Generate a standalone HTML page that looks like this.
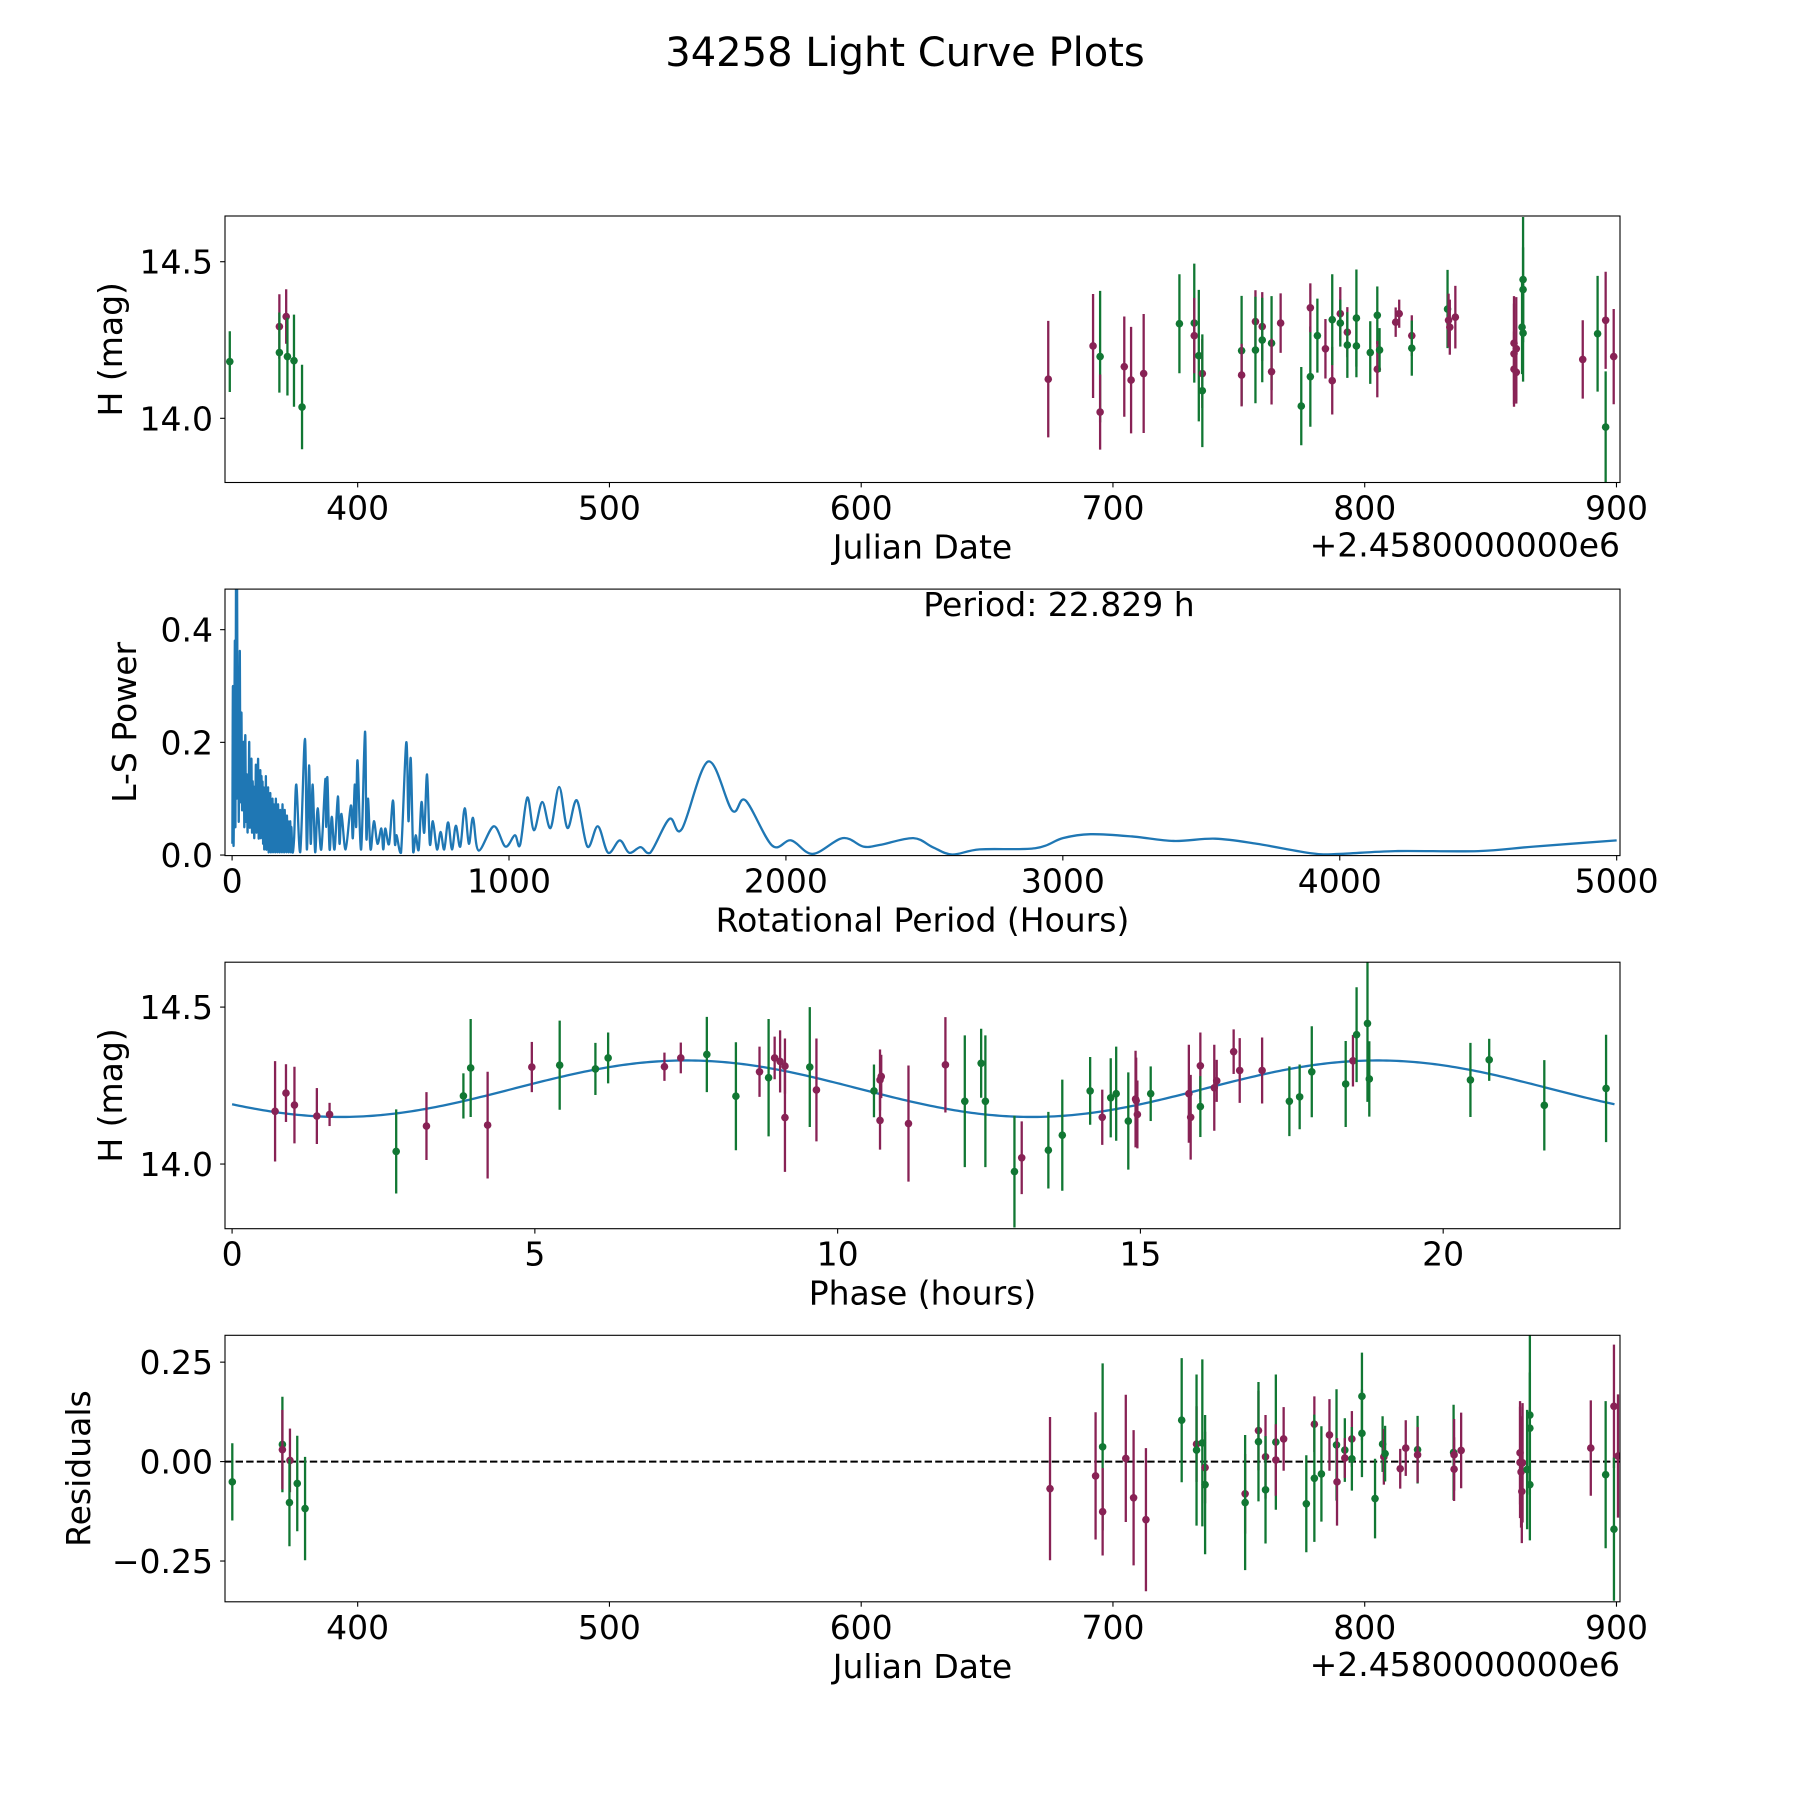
<!DOCTYPE html>
<html><head><meta charset="utf-8">
<style>
html,body{margin:0;padding:0;background:#fff;}
svg{display:block;font-family:"DejaVu Sans","Liberation Sans",sans-serif;}
</style></head>
<body>
<svg id="fig" width="1800" height="1800" viewBox="0 0 1800 1800" xmlns="http://www.w3.org/2000/svg">
<rect x="0" y="0" width="1800" height="1800" fill="#fff"/>
<text x="905" y="66" font-size="40" text-anchor="middle">34258 Light Curve Plots</text>
</svg>
<script>
// ---- observation data (panel 1) ----
const obsTime = [349.2,368.9,368.9,371.6,372.1,374.7,377.9,674.3,692.1,694.9,694.9,704.5,707.2,712.2,726.4,732.3,732.3,734.1,735.5,735.5,751.1,751.1,756.6,756.6,759.3,759.3,763.0,763.0,766.6,774.8,778.4,778.4,781.2,784.4,787.1,787.1,790.3,790.3,793.1,793.1,796.7,796.7,802.2,805.0,805.0,805.9,812.3,813.7,818.7,818.7,832.9,833.3,833.8,836.0,859.3,859.3,860.2,859.3,860.2,862.5,862.9,862.9,862.9,886.6,892.5,895.7,895.7,898.9];
const obsMag = [14.181,14.293,14.210,14.325,14.197,14.184,14.036,14.125,14.231,14.197,14.020,14.165,14.122,14.143,14.302,14.304,14.264,14.200,14.143,14.088,14.216,14.138,14.309,14.218,14.293,14.250,14.240,14.149,14.304,14.039,14.133,14.353,14.264,14.222,14.120,14.315,14.334,14.304,14.275,14.234,14.320,14.231,14.210,14.329,14.157,14.218,14.307,14.334,14.264,14.224,14.349,14.313,14.291,14.323,14.240,14.206,14.222,14.157,14.147,14.291,14.443,14.411,14.272,14.188,14.270,14.313,13.972,14.197];
const obsErr = [0.097,0.103,0.128,0.087,0.124,0.147,0.135,0.186,0.166,0.210,0.120,0.160,0.170,0.190,0.158,0.190,0.120,0.210,0.110,0.180,0.175,0.100,0.100,0.170,0.110,0.135,0.150,0.105,0.095,0.125,0.160,0.078,0.118,0.095,0.108,0.145,0.085,0.075,0.080,0.105,0.155,0.100,0.100,0.092,0.090,0.070,0.047,0.045,0.065,0.088,0.125,0.085,0.088,0.100,0.150,0.160,0.165,0.120,0.100,0.150,0.200,0.135,0.155,0.125,0.185,0.155,0.178,0.152];
const obsBand = ['g','p','g','p','g','g','g','p','p','g','p','p','p','p','g','g','p','g','p','g','g','p','p','g','p','g','g','p','p','g','g','p','g','p','p','g','p','g','p','g','g','g','g','g','p','g','p','p','p','g','g','p','p','p','p','p','p','p','p','g','g','g','g','p','g','p','g','p'];
// ---- phase-folded data (panel 3) ----
const phPhase = [0.71,0.89,1.03,1.40,1.61,2.71,3.21,3.82,3.94,4.22,4.95,5.41,6.00,6.21,7.14,7.41,7.84,8.32,8.71,8.86,8.96,9.05,9.13,9.13,9.54,9.65,10.60,10.70,10.72,10.70,11.17,11.78,12.10,12.37,12.44,12.92,13.04,13.48,13.71,14.17,14.37,14.51,14.60,14.80,14.92,14.93,14.95,15.17,15.80,15.83,15.99,15.99,16.22,16.26,16.54,16.64,17.01,17.46,17.63,17.83,18.39,18.51,18.57,18.75,18.78,20.45,20.76,21.67,22.69];
const phMag = [14.168,14.226,14.188,14.153,14.158,14.040,14.121,14.217,14.306,14.124,14.309,14.315,14.303,14.338,14.310,14.338,14.349,14.216,14.294,14.275,14.338,14.327,14.312,14.148,14.309,14.236,14.233,14.268,14.279,14.139,14.129,14.316,14.200,14.321,14.200,13.976,14.020,14.044,14.092,14.233,14.149,14.211,14.224,14.137,14.207,14.202,14.158,14.224,14.224,14.149,14.313,14.183,14.243,14.265,14.358,14.298,14.298,14.200,14.214,14.294,14.255,14.329,14.412,14.448,14.271,14.268,14.332,14.187,14.241];
const phErr = [0.160,0.092,0.122,0.089,0.037,0.134,0.108,0.072,0.156,0.170,0.080,0.142,0.083,0.081,0.045,0.049,0.120,0.172,0.080,0.187,0.068,0.099,0.088,0.173,0.191,0.164,0.084,0.097,0.069,0.093,0.185,0.152,0.210,0.110,0.210,0.178,0.116,0.122,0.177,0.108,0.088,0.126,0.150,0.155,0.154,0.137,0.108,0.087,0.156,0.135,0.106,0.097,0.137,0.067,0.071,0.103,0.105,0.111,0.103,0.145,0.137,0.082,0.151,0.250,0.120,0.118,0.067,0.144,0.171];
const phBand = ['p','p','p','p','p','g','p','g','g','p','p','g','g','g','p','p','g','g','p','g','p','p','p','p','g','p','g','p','p','p','p','p','g','g','g','g','p','g','g','g','p','g','g','g','p','p','p','g','p','p','p','g','p','p','p','p','p','g','g','g','g','p','g','g','g','g','g','g','g'];
// ---- residual data (panel 4) ----
const resTime = [350.2,370.1,370.1,373.1,372.9,376.0,379.1,675.0,693.1,695.9,695.9,705.1,708.2,713.1,727.3,733.2,733.2,735.5,736.6,736.6,752.5,752.5,757.8,757.8,760.6,760.6,764.7,764.7,767.8,776.8,780.0,780.0,782.8,786.0,788.8,789.0,792.1,792.1,794.9,794.9,798.9,798.9,804.1,807.1,807.6,808.1,814.1,816.3,821.0,821.0,835.3,835.5,835.5,838.3,861.7,861.7,862.1,862.4,862.7,864.5,865.6,865.6,865.6,889.8,895.7,899.0,899.0,900.6];
const resVal = [-0.051,0.043,0.030,0.003,-0.103,-0.055,-0.118,-0.068,-0.036,0.037,-0.126,0.008,-0.091,-0.146,0.104,0.044,0.029,0.047,-0.015,-0.058,-0.081,-0.103,0.078,0.050,0.012,-0.071,0.049,0.004,0.057,-0.106,0.094,-0.042,-0.031,0.067,0.042,-0.051,0.029,0.009,0.057,0.007,0.164,0.071,-0.093,0.044,0.012,0.020,-0.018,0.034,0.030,0.017,0.023,0.017,-0.019,0.028,0.022,-0.002,-0.026,-0.075,-0.003,-0.020,0.117,0.084,-0.058,0.034,-0.033,0.139,-0.170,0.014];
const resErr = [0.097,0.120,0.100,0.080,0.110,0.120,0.130,0.180,0.160,0.210,0.110,0.160,0.170,0.180,0.156,0.095,0.190,0.210,0.090,0.175,0.100,0.170,0.100,0.150,0.105,0.135,0.170,0.090,0.080,0.122,0.070,0.160,0.120,0.090,0.140,0.110,0.080,0.050,0.070,0.080,0.110,0.110,0.100,0.070,0.070,0.070,0.050,0.070,0.085,0.070,0.120,0.090,0.080,0.095,0.130,0.140,0.140,0.130,0.150,0.150,0.200,0.140,0.140,0.120,0.185,0.155,0.180,0.155];
const resBand = ['g','g','p','p','g','g','g','p','p','g','p','p','p','p','g','p','g','g','p','g','p','g','p','g','p','g','g','p','p','g','p','g','g','p','g','p','g','p','p','g','g','g','g','g','p','g','p','p','g','p','g','p','p','p','p','p','p','p','p','g','g','g','g','p','g','p','g','p'];
// ---- fit parameters ----
const fitPeriod = [22.829];
const fitParams = [14.24, 0.09, 4.646]; // mean, amplitude, phase offset
// ---- periodogram ----
const lsPeriod = [1,3,5,7,10,12,14,16,18,20,22,24,26,28,30,32,34,36,38,40,42,44,46,48,50,52,54,56,58,60,62,64,66,68,70,72,74,76,78,80,82,84,86,88,90,92,94,96,98,100,102,104,106,108,110,112,114,116,118,120,122,124,126,128,130,132,134,136,138,140,142,144,146,148,150,152,154,156,158,160,162,164,166,168,170,172,174,176,178,180,182,184,186,188,190,192,194,196,198,200,202,204,206,208,210,212,214,218,224,232,246,263,270,278,284,291,300,309,322,337,340,344,352,360,370,382,388,395,410,429,436,443,448,453,466,480,485,491,500,512,525,539,546,553,567,581,588,594,610,629,637,645,654,663,674,684,694,704,714,725,740,753,766,780,794,808,824,840,855,870,890,945,987,1021,1040,1066,1090,1120,1150,1181,1211,1245,1283,1321,1358,1400,1434,1475,1510,1579,1624,1719,1806,1854,1950,2019,2097,2205,2280,2340,2460,2530,2600,2700,2900,3000,3100,3250,3400,3550,3700,3900,4000,4200,4500,4700,5000];
const lsPower = [0.02,0.30,0.02,0.12,0.38,0.05,0.475,0.10,0.475,0.20,0.30,0.06,0.22,0.36,0.10,0.18,0.25,0.08,0.19,0.12,0.20,0.05,0.15,0.21,0.06,0.14,0.12,0.04,0.14,0.11,0.20,0.05,0.12,0.10,0.17,0.04,0.13,0.09,0.12,0.03,0.11,0.08,0.16,0.04,0.13,0.09,0.17,0.03,0.11,0.08,0.15,0.03,0.14,0.06,0.13,0.02,0.12,0.01,0.10,0.02,0.14,0.01,0.09,0.02,0.12,0.005,0.08,0.02,0.11,0.005,0.07,0.01,0.10,0.005,0.09,0.02,0.08,0.005,0.10,0.01,0.07,0.005,0.09,0.02,0.06,0.005,0.08,0.01,0.07,0.005,0.09,0.01,0.06,0.005,0.08,0.01,0.06,0.005,0.07,0.01,0.06,0.005,0.05,0.01,0.06,0.005,0.05,0.005,0.03,0.125,0.005,0.206,0.01,0.159,0.02,0.125,0.005,0.083,0.01,0.135,0.05,0.138,0.01,0.068,0.01,0.104,0.02,0.073,0.01,0.088,0.03,0.125,0.05,0.168,0.01,0.219,0.03,0.10,0.01,0.06,0.02,0.047,0.01,0.047,0.02,0.097,0.02,0.035,0.004,0.20,0.06,0.172,0.005,0.035,0.01,0.094,0.04,0.143,0.02,0.06,0.01,0.041,0.01,0.058,0.01,0.052,0.015,0.083,0.02,0.066,0.008,0.051,0.015,0.035,0.018,0.102,0.044,0.094,0.048,0.121,0.048,0.097,0.015,0.051,0.004,0.026,0.004,0.014,0.004,0.064,0.046,0.166,0.079,0.097,0.017,0.026,0.002,0.03,0.015,0.018,0.03,0.014,0.001,0.01,0.012,0.03,0.037,0.033,0.025,0.029,0.02,0.003,0.002,0.007,0.007,0.015,0.026];
// ---- ticks ----
const dateTicks = [400,500,600,700,800,900];
const magTicks = [14.0,14.5];
const powerTicks = [0.0,0.2,0.4];
const periodTicks = [0,1000,2000,3000,4000,5000];
const phaseTicks = [0,5,10,15,20];
const residTicks = [-0.25,0.0,0.25];
const residTickLabels = ['\u22120.25','0.00','0.25'];

const NS='http://www.w3.org/2000/svg';
const fig=document.getElementById('fig');
const COL={g:'#117733',p:'#882255'};
const L=225,R=1620,H=266.5,FS=33;
const tops=[216,589.1,962.2,1335.3];
function mk(tag,attrs,parent){const e=document.createElementNS(NS,tag);for(const k in attrs)e.setAttribute(k,attrs[k]);(parent||fig).appendChild(e);return e;}
function scale(d0,d1,r0,r1){return v=>r0+(v-d0)/(d1-d0)*(r1-r0);}
function model(ph){return fitParams[0]+fitParams[1]*Math.sin(4*Math.PI*(ph-fitParams[2])/fitPeriod[0]);}

function panel(i,name,xl,yl,xt,xtl,yt,ytl,xlabel,ylabel,ylabelX,offset){
  const top=tops[i],bot=top+H;
  const g=mk('g',{});
  
  
  const sx=scale(xl[0],xl[1],L,R), sy=scale(yl[0],yl[1],bot,top);
  const clipId='clip'+i;
  const cp=mk('clipPath',{id:clipId},g);mk('rect',{x:L,y:top,width:R-L,height:H},cp);
  const plot=mk('g',{'clip-path':'url(#'+clipId+')'},g);
  
  
  xt.forEach((v,k)=>{const x=sx(v);
    mk('line',{x1:x,x2:x,y1:bot,y2:bot+4.9,stroke:'#000','stroke-width':1.1},g);
    const t=mk('text',{x:x,y:bot+37,'font-size':FS,'text-anchor':'middle'},g);t.textContent=xtl[k];
    
    });
  yt.forEach((v,k)=>{const y=sy(v);
    mk('line',{x1:L-4.9,x2:L,y1:y,y2:y,stroke:'#000','stroke-width':1.1},g);
    const t=mk('text',{x:L-12,y:y+12,'font-size':FS,'text-anchor':'end'},g);t.textContent=ytl[k];
    
    });
  const xlab=mk('text',{x:(L+R)/2,y:bot+76,'font-size':FS,'text-anchor':'middle'},g);xlab.textContent=xlabel;
  
  
  const cy=(top+bot)/2;
  const ylab=mk('text',{x:ylabelX,y:cy,'font-size':FS,'text-anchor':'middle',transform:'rotate(-90 '+ylabelX+' '+cy+')'},g);ylab.textContent=ylabel;
  
  
  if(offset){const o=mk('text',{x:R,y:bot+74,'font-size':FS,'text-anchor':'end'},g);o.textContent=offset;
    
    }
  const fr=mk('rect',{x:L,y:top,width:R-L,height:H,fill:'none',stroke:'#000','stroke-width':1.1},g);
  
  
  return {sx,sy,plot};
}
function errPoint(P,x,y,e,band,nm){
  const c=COL[band];
  const l=mk('line',{x1:P.sx(x),x2:P.sx(x),y1:P.sy(y-e),y2:P.sy(y+e),stroke:c,'stroke-width':2.3},P.plot);
  
  
  const d=mk('circle',{cx:P.sx(x),cy:P.sy(y),r:3.8,fill:c},P.plot);
  
  
}
const dateLabels=dateTicks.map(String);
const magLabels=magTicks.map(v=>v.toFixed(1));
// Panel 1
const P1=panel(0,'light-curve-panel',[347.3,901.4],[13.795,14.646],dateTicks,dateLabels,magTicks,magLabels,'Julian Date','H (mag)',122,'+2.4580000000e6');
obsTime.forEach((t,k)=>errPoint(P1,t,obsMag[k],obsErr[k],obsBand[k],'observation'));
// Panel 2
const P2=panel(1,'periodogram-panel',[-25.6,5012],[-0.001,0.472],periodTicks,periodTicks.map(String),powerTicks,powerTicks.map(v=>v.toFixed(1)),'Rotational Period (Hours)','L-S Power',136,null);
(function(){
  const pts=lsPeriod.map((p,k)=>[P2.sx(p),P2.sy(lsPower[k])]);
  let d='M'+pts[0][0]+','+pts[0][1];
  for(let k=0;k<pts.length-1;k++){
    const p0=pts[Math.max(0,k-1)],p1=pts[k],p2=pts[k+1],p3=pts[Math.min(pts.length-1,k+2)];
    const c1x=p1[0]+(p2[0]-p0[0])/6,c1y=p1[1]+(p2[1]-p0[1])/6,c2x=p2[0]-(p3[0]-p1[0])/6,c2y=p2[1]-(p3[1]-p1[1])/6;
    d+=' C'+c1x+','+Math.min(P2.sy(0),c1y)+' '+c2x+','+Math.min(P2.sy(0),c2y)+' '+p2[0]+','+p2[1];
  }
  const path=mk('path',{d:d,fill:'none',stroke:'#1f77b4','stroke-width':2.3,'stroke-linejoin':'round'},P2.plot);
  
  
  const t=mk('text',{x:1059,y:616,'font-size':FS,'text-anchor':'middle'},fig);
  t.textContent='Period: '+fitPeriod[0].toFixed(3)+' h';
  
  
})();
// Panel 3
const P3=panel(2,'phase-folded-panel',[-0.117,22.92],[13.794,14.643],phaseTicks,phaseTicks.map(String),magTicks,magLabels,'Phase (hours)','H (mag)',122,null);
(function(){
  let d='';
  for(let k=0;k<=400;k++){const ph=fitPeriod[0]*k/400;d+=(k?'L':'M')+P3.sx(ph)+','+P3.sy(model(ph));}
  const path=mk('path',{d:d,fill:'none',stroke:'#1f77b4','stroke-width':2.3},P3.plot);
  
  
})();
phPhase.forEach((p,k)=>errPoint(P3,p,phMag[k],phErr[k],phBand[k],'phased-observation'));
// Panel 4
const P4=panel(3,'residuals-panel',[347.3,901.4],[-0.3525,0.3175],dateTicks,dateLabels,residTicks,residTickLabels,'Julian Date','Residuals',90,'+2.4580000000e6');
(function(){
  const z=mk('line',{x1:L,x2:R,y1:P4.sy(0),y2:P4.sy(0),stroke:'#000','stroke-width':2,'stroke-dasharray':'7.4,3.2'},P4.plot);
  
  
})();
resTime.forEach((t,k)=>errPoint(P4,t,resVal[k],resErr[k],resBand[k],'residual'));
</script>
</body></html>
